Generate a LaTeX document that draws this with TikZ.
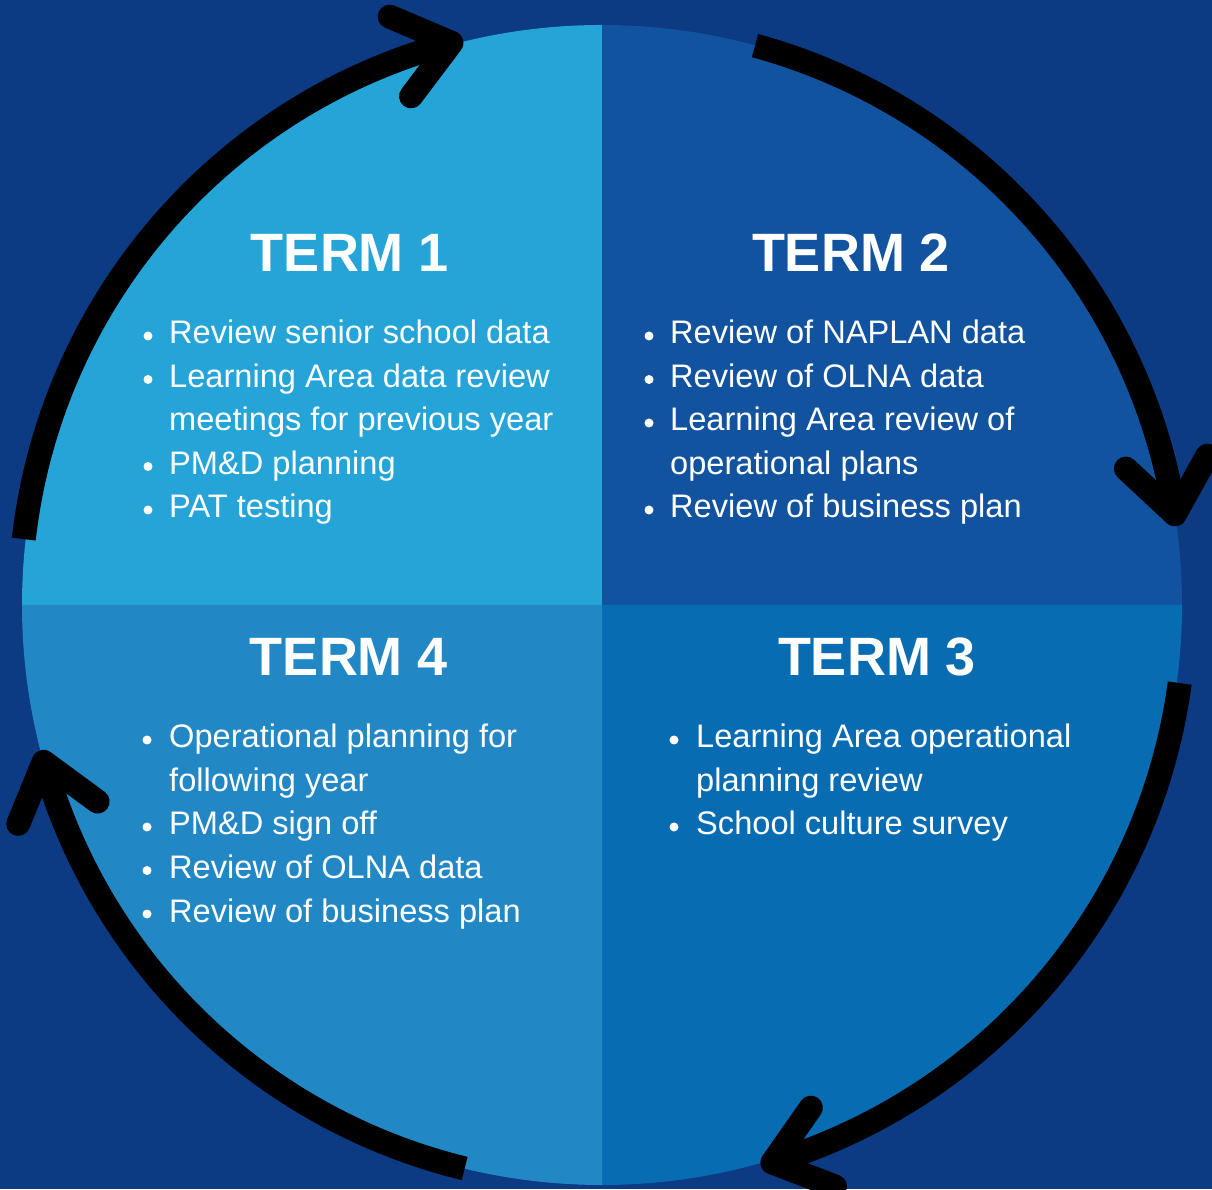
\documentclass[tikz,border=0pt]{standalone}
\usepackage{fontspec}
\setmainfont{Liberation Sans}
\usetikzlibrary{calc}
\definecolor{bgnavy}{RGB}{12,58,131}
\definecolor{qone}{RGB}{37,164,215}
\definecolor{qtwo}{RGB}{18,83,160}
\definecolor{qthree}{RGB}{8,108,179}
\definecolor{qfour}{RGB}{33,136,197}
\begin{document}
\begin{tikzpicture}[x=1pt,y=1pt,
  heading/.style={text=white, font=\fontsize{54}{60}\selectfont\bfseries, anchor=base, inner sep=0pt},
  item/.style={text=white, font=\fontsize{32.6}{43.5}\selectfont, anchor=base west, inner sep=0pt},
  bulletdot/.style={circle, fill=white, minimum size=9pt, inner sep=0pt},
  shaft/.style={line width=24pt, line cap=butt, draw=black},
  headline/.style={line width=24pt, line cap=round, line join=round, draw=black}]
\fill[bgnavy] (0,0) rectangle (1212,1189);
\useasboundingbox (0,0) rectangle (1212,1189);
\coordinate (C) at (602,584);
% quadrants
\fill[qone]   (C) -- ++(180:580) arc[start angle=180, end angle=90,  radius=580] -- cycle;
\fill[qtwo]   (C) -- ++(90:580)  arc[start angle=90,  end angle=0,   radius=580] -- cycle;
\fill[qthree] (C) -- ++(0:580)   arc[start angle=0,   end angle=-90, radius=580] -- cycle;
\fill[qfour]  (C) -- ++(270:580) arc[start angle=270, end angle=180, radius=580] -- cycle;

% arrows
\coordinate (t1) at ($(C)+(173.5:582)$);
\coordinate (h1) at ($(C)+(105:582)$);
\coordinate (a1) at ($(h1)+(157:67)$);
\coordinate (b1) at ($(h1)+(233:67)$);
\draw[shaft] (t1) arc[start angle=173.5, end angle=105, radius=582];
\draw[headline] (a1) -- (h1) -- (b1);

\coordinate (t2) at ($(C)+(74.7:580)$);
\coordinate (h2) at ($(C)+(9:580)$);
\coordinate (a2) at ($(h2)+(61:67)$);
\coordinate (b2) at ($(h2)+(137:67)$);
\draw[shaft] (t2) arc[start angle=74.7, end angle=9, radius=580];
\draw[headline] (a2) -- (h2) -- (b2);

\coordinate (t3) at ($(C)+(-7.7:583)$);
\coordinate (h3) at ($(C)+(-73:583)$);
\coordinate (a3) at ($(h3)+(55:67)$);
\coordinate (b3) at ($(h3)+(-21:67)$);
\draw[shaft] (t3) arc[start angle=-7.7, end angle=-73, radius=583];
\draw[headline] (a3) -- (h3) -- (b3);

\coordinate (t4) at ($(C)+(256.3:580)$);
\coordinate (h4) at ($(C)+(195.7:580)$);
\coordinate (a4) at ($(h4)+(323.7:67)$);
\coordinate (b4) at ($(h4)+(247.7:67)$);
\draw[shaft] (t4) arc[start angle=256.3, end angle=195.7, radius=580];
\draw[headline] (a4) -- (h4) -- (b4);

% headings
\node[heading] (term1) at (350,917) {TERM 1};
\node[heading] (term2) at (851,917) {TERM 2};
\node[heading] (term4) at (349,513) {TERM 4};
\node[heading] (term3) at (877,513) {TERM 3};

% term 1 items
\node[bulletdot] (b1a) at (148,853) {};
\node[item] (i1a) at (169,845) {Review senior school data};
\node[bulletdot] (b1b) at (148,809.5) {};
\node[item] (i1b) at (169,801.5) {Learning Area data review};
\node[item] (i1c) at (169,758) {meetings for previous year};
\node[bulletdot] (b1d) at (148,722.5) {};
\node[item] (i1d) at (169,714.5) {PM\&D planning};
\node[bulletdot] (b1e) at (148,679) {};
\node[item] (i1e) at (169,671) {PAT testing};

% term 2 items
\node[bulletdot] (b2a) at (649,853) {};
\node[item] (i2a) at (670,845) {Review of NAPLAN data};
\node[bulletdot] (b2b) at (649,809.5) {};
\node[item] (i2b) at (670,801.5) {Review of OLNA data};
\node[bulletdot] (b2c) at (649,766) {};
\node[item] (i2c) at (670,758) {Learning Area review of};
\node[item] (i2d) at (670,714.5) {operational plans};
\node[bulletdot] (b2e) at (649,679) {};
\node[item] (i2e) at (670,671) {Review of business plan};

% term 4 items
\node[bulletdot] (b4a) at (147,449) {};
\node[item] (i4a) at (169,441) {Operational planning for};
\node[item] (i4b) at (169,397.5) {following year};
\node[bulletdot] (b4c) at (147,362) {};
\node[item] (i4c) at (169,354) {PM\&D sign off};
\node[bulletdot] (b4d) at (147,318.5) {};
\node[item] (i4d) at (169,310.5) {Review of OLNA data};
\node[bulletdot] (b4e) at (147,275) {};
\node[item] (i4e) at (169,267) {Review of business plan};

% term 3 items
\node[bulletdot] (b3a) at (674,449) {};
\node[item] (i3a) at (696,441) {Learning Area operational};
\node[item] (i3b) at (696,397.5) {planning review};
\node[bulletdot] (b3c) at (674,362) {};
\node[item] (i3c) at (696,354) {School culture survey};
\end{tikzpicture}
\end{document}
